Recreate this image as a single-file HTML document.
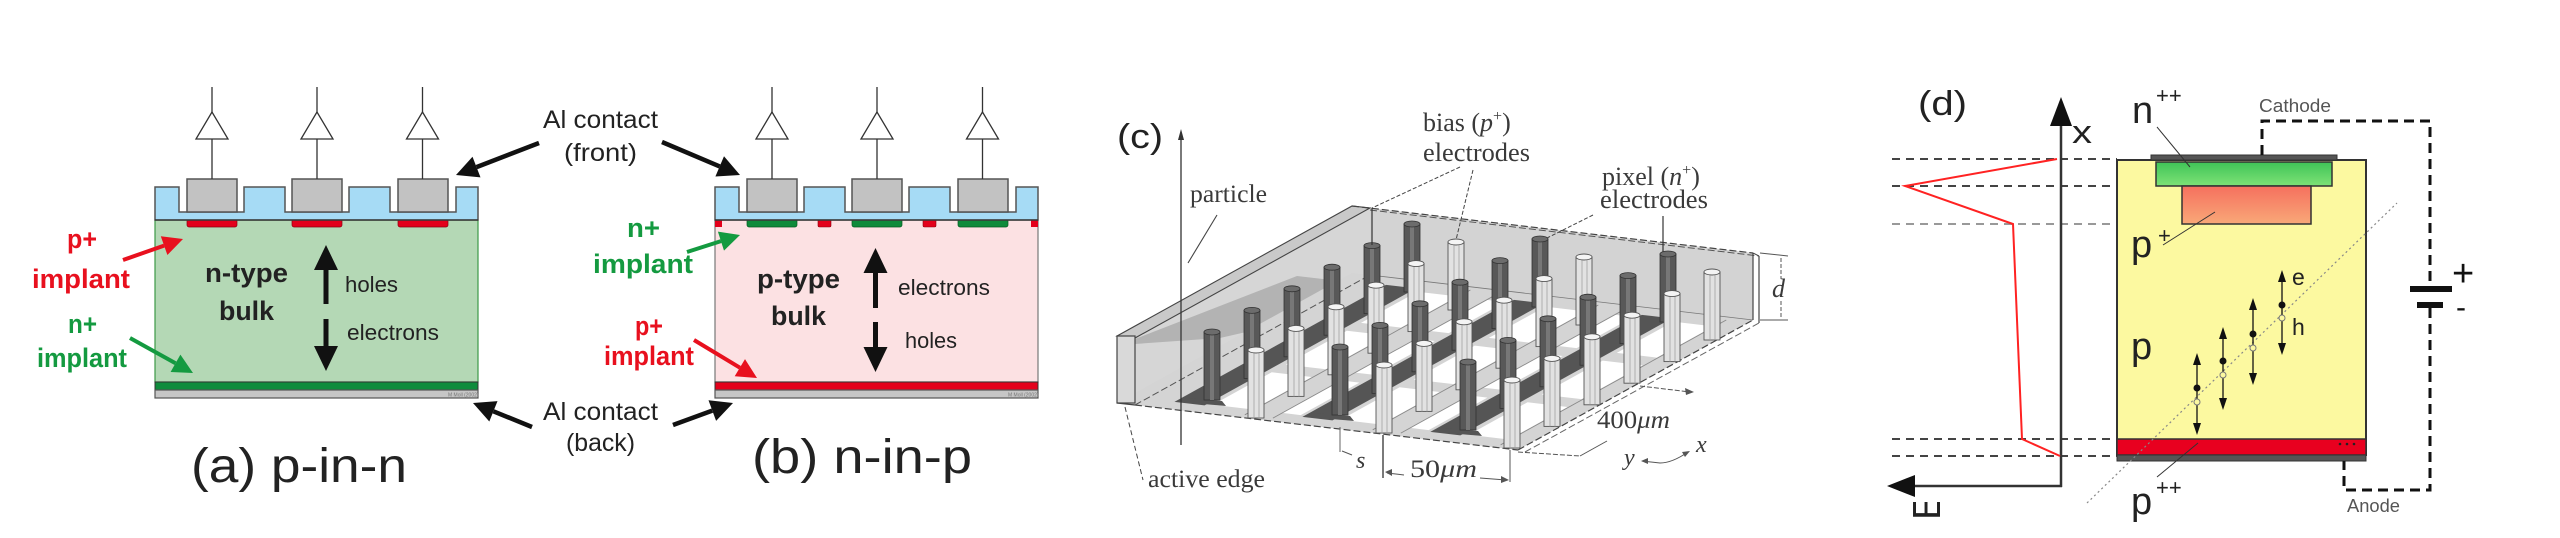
<!DOCTYPE html>
<html>
<head>
<meta charset="utf-8">
<style>
  html,body{margin:0;padding:0;background:#fff;}
  svg{display:block;}
  .sans{font-family:"Liberation Sans",Arial,sans-serif;}
  .serif{font-family:"Liberation Serif","Times New Roman",serif;}
</style>
</head>
<body>
<svg width="2560" height="538" viewBox="0 0 2560 538" xmlns="http://www.w3.org/2000/svg">
<defs>
  <g id="amp">
    <line x1="0" y1="87" x2="0" y2="179" stroke="#333" stroke-width="1.3"/>
    <polygon points="0,112 -16,139 16,139" fill="#fff" stroke="#333" stroke-width="1.3"/>
  </g>
  <g id="dp">
    <rect x="-8" y="-68" width="16" height="68" fill="#585858" stroke="#333" stroke-width="0.8"/>
    <rect x="-2" y="-67" width="4" height="67" fill="#777"/>
    <ellipse cx="0" cy="-68" rx="8" ry="3" fill="#6c6c6c" stroke="#333" stroke-width="0.8"/>
  </g>
  <g id="lp">
    <rect x="-8" y="-68" width="16" height="68" fill="#e2e2e2" stroke="#555" stroke-width="0.9"/>
    <line x1="-2" y1="-66" x2="-2" y2="0" stroke="#a0a0a0" stroke-width="0.8"/>
    <line x1="3" y1="-66" x2="3" y2="0" stroke="#a0a0a0" stroke-width="0.8"/>
    <ellipse cx="0" cy="-68" rx="8" ry="3" fill="#f4f4f4" stroke="#555" stroke-width="0.9"/>
  </g>
  <linearGradient id="gGreen" x1="0" y1="0" x2="0" y2="1">
    <stop offset="0" stop-color="#3fc457"/><stop offset="1" stop-color="#7ee276"/>
  </linearGradient>
  <linearGradient id="gSalmon" x1="0" y1="0" x2="0" y2="1">
    <stop offset="0" stop-color="#f6705e"/><stop offset="1" stop-color="#f8a878"/>
  </linearGradient>
  <clipPath id="eclip"><rect x="1900" y="502" width="50" height="17"/></clipPath>
</defs>

<!-- ================= PANEL A ================= -->
<rect x="155" y="220" width="323" height="162" fill="#b4d8b5" stroke="#3c9a48" stroke-width="1.2"/>
<rect x="187" y="219" width="50" height="8" rx="2" fill="#e3001b" stroke="#8a0010" stroke-width="0.7"/>
<rect x="292" y="219" width="50" height="8" rx="2" fill="#e3001b" stroke="#8a0010" stroke-width="0.7"/>
<rect x="398" y="219" width="50" height="8" rx="2" fill="#e3001b" stroke="#8a0010" stroke-width="0.7"/>
<path d="M155,220 V187 H179 V212 H244 V187 H285 V212 H349 V187 H390 V212 H456 V187 H478 V220 Z" fill="#a6dbf5" stroke="#555" stroke-width="1.5"/>
<line x1="155" y1="220" x2="478" y2="220" stroke="#333" stroke-width="1.3"/>
<rect x="187" y="179" width="50" height="33" fill="#c2c2c2" stroke="#555" stroke-width="1.5"/>
<rect x="292" y="179" width="50" height="33" fill="#c2c2c2" stroke="#555" stroke-width="1.5"/>
<rect x="398" y="179" width="50" height="33" fill="#c2c2c2" stroke="#555" stroke-width="1.5"/>
<use href="#amp" x="212" y="0"/>
<use href="#amp" x="317" y="0"/>
<use href="#amp" x="422.5" y="0"/>
<rect x="155" y="382" width="323" height="8" fill="#0f8c3c" stroke="#333" stroke-width="1"/>
<rect x="155" y="390" width="323" height="8" fill="#c6c6c6" stroke="#555" stroke-width="1.2"/>
<text x="448" y="396.5" class="sans" font-size="5" fill="#777">M Moll (2002)</text>

<text x="205" y="282" class="sans" font-size="27" font-weight="bold" fill="#222" textLength="83" lengthAdjust="spacingAndGlyphs">n-type</text>
<text x="219" y="320" class="sans" font-size="27" font-weight="bold" fill="#222" textLength="55" lengthAdjust="spacingAndGlyphs">bulk</text>
<polygon points="326,245 314,270 338,270" fill="#111"/>
<rect x="323.5" y="268" width="5" height="36" fill="#111"/>
<rect x="323.5" y="319" width="5" height="29" fill="#111"/>
<polygon points="314,346 338,346 326,371" fill="#111"/>
<text x="345" y="292" class="sans" font-size="22" fill="#222" textLength="53" lengthAdjust="spacingAndGlyphs">holes</text>
<text x="347" y="340" class="sans" font-size="22" fill="#222" textLength="92" lengthAdjust="spacingAndGlyphs">electrons</text>

<text x="67" y="248" class="sans" font-size="27" font-weight="bold" fill="#e8101e" textLength="30" lengthAdjust="spacingAndGlyphs">p+</text>
<text x="32" y="288" class="sans" font-size="27" font-weight="bold" fill="#e8101e" textLength="98" lengthAdjust="spacingAndGlyphs">implant</text>
<text x="68" y="333" class="sans" font-size="27" font-weight="bold" fill="#149a40" textLength="29" lengthAdjust="spacingAndGlyphs">n+</text>
<text x="37" y="367" class="sans" font-size="27" font-weight="bold" fill="#149a40" textLength="90" lengthAdjust="spacingAndGlyphs">implant</text>
<line x1="123" y1="260" x2="164.1" y2="245.6" stroke="#e8101e" stroke-width="4"/>
<polygon points="183,239 167.4,255 160.8,236.2" fill="#e8101e"/>
<line x1="130" y1="338" x2="175.5" y2="363.3" stroke="#149a40" stroke-width="4"/>
<polygon points="193,373 170.6,372 180.4,354.6" fill="#149a40"/>

<text x="191" y="482" class="sans" font-size="48" fill="#222" textLength="216" lengthAdjust="spacingAndGlyphs">(a)  p-in-n</text>

<!-- Al contact labels & arrows -->
<text x="543" y="128" class="sans" font-size="25" fill="#222" textLength="115" lengthAdjust="spacingAndGlyphs">Al contact</text>
<text x="564" y="161" class="sans" font-size="25" fill="#222" textLength="73" lengthAdjust="spacingAndGlyphs">(front)</text>
<text x="543" y="420" class="sans" font-size="25" fill="#222" textLength="115" lengthAdjust="spacingAndGlyphs">Al contact</text>
<text x="566" y="451" class="sans" font-size="25" fill="#222" textLength="69" lengthAdjust="spacingAndGlyphs">(back)</text>
<line x1="539" y1="143" x2="476.5" y2="167.1" stroke="#111" stroke-width="4.5"/>
<polygon points="456,175 472.5,156.8 480.5,177.4" fill="#111"/>
<line x1="662" y1="142" x2="719.7" y2="166.4" stroke="#111" stroke-width="4.5"/>
<polygon points="740,175 715.4,176.5 724,156.3" fill="#111"/>
<line x1="532" y1="427" x2="493.4" y2="411.3" stroke="#111" stroke-width="4.5"/>
<polygon points="473,403 497.5,401.1 489.3,421.5" fill="#111"/>
<line x1="673" y1="425" x2="712.3" y2="410.6" stroke="#111" stroke-width="4.5"/>
<polygon points="733,403 716.1,420.9 708.5,400.3" fill="#111"/>

<!-- ================= PANEL B ================= -->
<rect x="715" y="220" width="323" height="162" fill="#fce1e3" stroke="#777" stroke-width="1.2"/>
<rect x="747" y="219" width="50" height="8" rx="2" fill="#0e8a3a" stroke="#065a22" stroke-width="0.7"/>
<rect x="852" y="219" width="50" height="8" rx="2" fill="#0e8a3a" stroke="#065a22" stroke-width="0.7"/>
<rect x="958" y="219" width="50" height="8" rx="2" fill="#0e8a3a" stroke="#065a22" stroke-width="0.7"/>
<rect x="818" y="219" width="13" height="8" rx="1.5" fill="#e3001b" stroke="#8a0010" stroke-width="0.6"/>
<rect x="923" y="219" width="13" height="8" rx="1.5" fill="#e3001b" stroke="#8a0010" stroke-width="0.6"/>
<rect x="715" y="219" width="7" height="8" fill="#e3001b"/>
<rect x="1031" y="219" width="7" height="8" fill="#e3001b"/>
<path d="M715,220 V187 H739 V212 H804 V187 H845 V212 H909 V187 H950 V212 H1016 V187 H1038 V220 Z" fill="#a6dbf5" stroke="#555" stroke-width="1.5"/>
<line x1="715" y1="220" x2="1038" y2="220" stroke="#333" stroke-width="1.3"/>
<rect x="747" y="179" width="50" height="33" fill="#c2c2c2" stroke="#555" stroke-width="1.5"/>
<rect x="852" y="179" width="50" height="33" fill="#c2c2c2" stroke="#555" stroke-width="1.5"/>
<rect x="958" y="179" width="50" height="33" fill="#c2c2c2" stroke="#555" stroke-width="1.5"/>
<use href="#amp" x="772" y="0"/>
<use href="#amp" x="877" y="0"/>
<use href="#amp" x="982.5" y="0"/>
<rect x="715" y="382" width="323" height="8" fill="#e3001b" stroke="#333" stroke-width="1"/>
<rect x="715" y="390" width="323" height="8" fill="#c6c6c6" stroke="#555" stroke-width="1.2"/>
<text x="1008" y="396.5" class="sans" font-size="5" fill="#777">M Moll (2002)</text>

<text x="757" y="288" class="sans" font-size="27" font-weight="bold" fill="#222" textLength="83" lengthAdjust="spacingAndGlyphs">p-type</text>
<text x="771" y="325" class="sans" font-size="27" font-weight="bold" fill="#222" textLength="55" lengthAdjust="spacingAndGlyphs">bulk</text>
<polygon points="875.5,248 863.5,273 887.5,273" fill="#111"/>
<rect x="873" y="271" width="5" height="37" fill="#111"/>
<rect x="873" y="322" width="5" height="27" fill="#111"/>
<polygon points="863.5,347 887.5,347 875.5,372" fill="#111"/>
<text x="898" y="295" class="sans" font-size="22" fill="#222" textLength="92" lengthAdjust="spacingAndGlyphs">electrons</text>
<text x="905" y="348" class="sans" font-size="22" fill="#222" textLength="52" lengthAdjust="spacingAndGlyphs">holes</text>

<text x="627" y="237" class="sans" font-size="27" font-weight="bold" fill="#149a40" textLength="33" lengthAdjust="spacingAndGlyphs">n+</text>
<text x="593" y="273" class="sans" font-size="27" font-weight="bold" fill="#149a40" textLength="100" lengthAdjust="spacingAndGlyphs">implant</text>
<text x="635" y="335" class="sans" font-size="27" font-weight="bold" fill="#e8101e" textLength="28" lengthAdjust="spacingAndGlyphs">p+</text>
<text x="604" y="365" class="sans" font-size="27" font-weight="bold" fill="#e8101e" textLength="90" lengthAdjust="spacingAndGlyphs">implant</text>
<line x1="687" y1="252" x2="721" y2="241.1" stroke="#149a40" stroke-width="4"/>
<polygon points="740,235 724,250.6 717.9,231.6" fill="#149a40"/>
<line x1="694" y1="340" x2="739.9" y2="367.7" stroke="#e8101e" stroke-width="4"/>
<polygon points="757,378 734.7,376.3 745,359.1" fill="#e8101e"/>

<text x="752" y="473" class="sans" font-size="48" fill="#222" textLength="220" lengthAdjust="spacingAndGlyphs">(b)  n-in-p</text>

<!-- ================= PANEL C ================= -->
<text x="1117" y="148" class="sans" font-size="34" fill="#222" textLength="46" lengthAdjust="spacingAndGlyphs">(c)</text>

<!-- back wall -->
<polygon points="1370,208 1753,253 1753,320 1370,275" fill="#d3d3d3"/>
<!-- left wall inner face -->
<polygon points="1135,338 1370,208 1370,275 1135,405" fill="#d6d6d6"/>
<polygon points="1135,339 1297,276 1357,283 1255,330 1220,338 1135,344" fill="#adadad" opacity="0.85"/>
<!-- floor -->
<g transform="matrix(401 47 235 -130 1117 403)">
  <rect x="0" y="0" width="1" height="1" fill="#d4d4d4"/>
  <!-- white cells -->
  <g fill="#ffffff">
    <rect x="0.204" y="0.06" width="0.100" height="0.25"/>
    <rect x="0.204" y="0.37" width="0.100" height="0.26"/>
    <rect x="0.204" y="0.69" width="0.100" height="0.24"/>
    <rect x="0.377" y="0.06" width="0.046" height="0.25"/>
    <rect x="0.377" y="0.37" width="0.046" height="0.26"/>
    <rect x="0.377" y="0.69" width="0.046" height="0.24"/>
    <rect x="0.523" y="0.06" width="0.100" height="0.25"/>
    <rect x="0.523" y="0.37" width="0.100" height="0.26"/>
    <rect x="0.523" y="0.69" width="0.100" height="0.24"/>
    <rect x="0.696" y="0.06" width="0.046" height="0.25"/>
    <rect x="0.696" y="0.37" width="0.046" height="0.26"/>
    <rect x="0.696" y="0.69" width="0.046" height="0.24"/>
    <rect x="0.842" y="0.06" width="0.100" height="0.25"/>
    <rect x="0.842" y="0.37" width="0.100" height="0.26"/>
    <rect x="0.842" y="0.69" width="0.100" height="0.24"/>
  </g>
  <g stroke="#8a8a8a" stroke-width="0.9" vector-effect="non-scaling-stroke">
    <line x1="0.307" y1="0.02" x2="0.307" y2="0.98" vector-effect="non-scaling-stroke"/>
    <line x1="0.377" y1="0.02" x2="0.377" y2="0.98" vector-effect="non-scaling-stroke"/>
    <line x1="0.626" y1="0.02" x2="0.626" y2="0.98" vector-effect="non-scaling-stroke"/>
    <line x1="0.696" y1="0.02" x2="0.696" y2="0.98" vector-effect="non-scaling-stroke"/>
    <line x1="0.945" y1="0.02" x2="0.945" y2="0.98" vector-effect="non-scaling-stroke"/>
  </g>
  <!-- dark strips -->
  <g fill="#555">
    <rect x="0.114" y="0.05" width="0.075" height="0.90"/>
    <rect x="0.433" y="0.05" width="0.075" height="0.90"/>
    <rect x="0.752" y="0.05" width="0.075" height="0.90"/>
  </g>
</g>
<!-- strip feet -->
<polygon points="1188,398 1222,401 1226,406 1192,403" fill="#555"/>
<polygon points="1316,413 1350,416 1354,421 1320,418" fill="#555"/>
<polygon points="1444,428 1478,431 1482,436 1448,433" fill="#555"/>
<!-- floor edges -->
<line x1="1135" y1="405" x2="1518" y2="450" stroke="#444" stroke-width="1.2" stroke-dasharray="7 3"/>
<line x1="1518" y1="450" x2="1753" y2="320" stroke="#444" stroke-width="1.2" stroke-dasharray="7 3"/>
<line x1="1525" y1="452" x2="1759" y2="323" stroke="#666" stroke-width="1" stroke-dasharray="7 3"/>
<line x1="1135" y1="405" x2="1370" y2="275" stroke="#555" stroke-width="1" stroke-dasharray="7 3"/>
<line x1="1370" y1="275" x2="1753" y2="320" stroke="#777" stroke-width="0.8"/>

<!-- pillars (back to front) -->
<use href="#dp" x="1412" y="292"/>
<use href="#dp" x="1540" y="307"/>
<use href="#lp" x="1456" y="310"/>
<use href="#dp" x="1372" y="313.6"/>
<use href="#dp" x="1668" y="322"/>
<use href="#lp" x="1584" y="325"/>
<use href="#dp" x="1500" y="328.6"/>
<use href="#lp" x="1416" y="331.6"/>
<use href="#dp" x="1332" y="335.2"/>
<use href="#lp" x="1712" y="340"/>
<use href="#dp" x="1628" y="343.6"/>
<use href="#lp" x="1544" y="346.6"/>
<use href="#dp" x="1460" y="350.2"/>
<use href="#lp" x="1376" y="353.2"/>
<use href="#dp" x="1292" y="356.8"/>
<use href="#lp" x="1672" y="361.6"/>
<use href="#dp" x="1588" y="365.2"/>
<use href="#lp" x="1504" y="368.2"/>
<use href="#dp" x="1420" y="371.8"/>
<use href="#lp" x="1336" y="374.8"/>
<use href="#dp" x="1252" y="378.4"/>
<use href="#lp" x="1632" y="383.2"/>
<use href="#dp" x="1548" y="386.8"/>
<use href="#lp" x="1464" y="389.8"/>
<use href="#dp" x="1380" y="393.4"/>
<use href="#lp" x="1296" y="396.4"/>
<use href="#dp" x="1212" y="400"/>
<use href="#lp" x="1592" y="404.8"/>
<use href="#dp" x="1508" y="408.4"/>
<use href="#lp" x="1424" y="411.4"/>
<use href="#dp" x="1340" y="415"/>
<use href="#lp" x="1256" y="418"/>
<use href="#lp" x="1552" y="426.4"/>
<use href="#dp" x="1468" y="430"/>
<use href="#lp" x="1384" y="433"/>
<use href="#lp" x="1512" y="448"/>

<!-- left wall (active edge) -->
<polygon points="1117,336 1352,206 1370,208 1135,338" fill="#c9c9c9" stroke="#444" stroke-width="1.1"/>
<rect x="1117" y="336" width="18" height="67" fill="#d9d9d9" stroke="#444" stroke-width="1.2"/>
<line x1="1117" y1="403" x2="1135" y2="405" stroke="#444" stroke-width="1.2"/>
<!-- back wall top edges -->
<line x1="1352" y1="206" x2="1753" y2="253" stroke="#444" stroke-width="1.2" stroke-dasharray="7 3"/>
<line x1="1370" y1="210" x2="1759" y2="256" stroke="#555" stroke-width="1" stroke-dasharray="7 3"/>
<line x1="1753" y1="253" x2="1753" y2="320" stroke="#444" stroke-width="1.2"/>
<line x1="1759" y1="256" x2="1759" y2="323" stroke="#444" stroke-width="1.2"/>
<line x1="1753" y1="253" x2="1759" y2="256" stroke="#444" stroke-width="1"/>

<!-- particle -->
<line x1="1181" y1="137" x2="1181" y2="445" stroke="#333" stroke-width="1.3"/>
<polygon points="1181,129 1178,140 1184,140" fill="#333"/>
<line x1="1217" y1="215" x2="1188" y2="263" stroke="#444" stroke-width="1.1"/>
<text x="1190" y="202" class="serif" font-size="25" fill="#3a3a3a" textLength="77" lengthAdjust="spacingAndGlyphs">particle</text>

<!-- electrode labels -->
<text x="1423" y="131" class="serif" font-size="26" fill="#3a3a3a">bias (<tspan font-style="italic">p</tspan><tspan font-size="16" dy="-10">+</tspan><tspan dy="10">)</tspan></text>
<text x="1423" y="161" class="serif" font-size="26" fill="#3a3a3a" textLength="107" lengthAdjust="spacingAndGlyphs">electrodes</text>
<text x="1602" y="185" class="serif" font-size="26" fill="#3a3a3a">pixel (<tspan font-style="italic">n</tspan><tspan font-size="16" dy="-10">+</tspan><tspan dy="10">)</tspan></text>
<text x="1600" y="208" class="serif" font-size="26" fill="#3a3a3a" textLength="108" lengthAdjust="spacingAndGlyphs">electrodes</text>
<line x1="1460" y1="167" x2="1372" y2="208" stroke="#444" stroke-width="1" stroke-dasharray="4 2"/>
<line x1="1372" y1="208" x2="1372" y2="245" stroke="#333" stroke-width="1.2"/>
<line x1="1473" y1="170" x2="1456" y2="240" stroke="#444" stroke-width="1" stroke-dasharray="4 2"/>
<line x1="1593" y1="215" x2="1547" y2="238" stroke="#444" stroke-width="1" stroke-dasharray="4 2"/>
<line x1="1663" y1="216" x2="1663" y2="252" stroke="#333" stroke-width="1.2"/>

<!-- d dimension -->
<line x1="1760" y1="253" x2="1788" y2="256" stroke="#555" stroke-width="1"/>
<line x1="1760" y1="320" x2="1788" y2="320" stroke="#555" stroke-width="1"/>
<line x1="1781" y1="258" x2="1781" y2="279" stroke="#555" stroke-width="1" stroke-dasharray="4 2"/>
<line x1="1781" y1="301" x2="1781" y2="318" stroke="#555" stroke-width="1" stroke-dasharray="4 2"/>
<text x="1772" y="297" class="serif" font-size="26" font-style="italic" fill="#3a3a3a">d</text>

<!-- 400um dimension -->
<line x1="1518" y1="452" x2="1580" y2="456" stroke="#555" stroke-width="1" stroke-dasharray="5 2"/>
<line x1="1580" y1="456" x2="1607" y2="441" stroke="#555" stroke-width="1"/>
<line x1="1640" y1="386" x2="1690" y2="392" stroke="#555" stroke-width="1" stroke-dasharray="5 2"/>
<polygon points="1694,392 1685,388 1686,395" fill="#555"/>
<text x="1597" y="428" class="serif" font-size="25" fill="#3a3a3a" textLength="73" lengthAdjust="spacingAndGlyphs">400<tspan font-style="italic">μm</tspan></text>
<!-- axes -->
<text x="1624" y="465" class="serif" font-size="24" font-style="italic" fill="#3a3a3a">y</text>
<path d="M1642,461 L1660,463 Q1672,463 1688,452" fill="none" stroke="#555" stroke-width="1"/>
<polygon points="1641,461 1648,458 1648,464" fill="#555"/>
<polygon points="1690,451 1682,452 1685,457" fill="#555"/>
<text x="1696" y="452" class="serif" font-size="24" font-style="italic" fill="#3a3a3a">x</text>

<!-- s / 50um dimension -->
<line x1="1340" y1="427" x2="1340" y2="452" stroke="#666" stroke-width="1"/>
<line x1="1342" y1="451" x2="1352" y2="455" stroke="#555" stroke-width="1"/>
<text x="1356" y="468" class="serif" font-size="24" font-style="italic" fill="#3a3a3a">s</text>
<line x1="1383" y1="435" x2="1383" y2="478" stroke="#333" stroke-width="1.3"/>
<line x1="1387" y1="473" x2="1404" y2="475" stroke="#555" stroke-width="1"/>
<polygon points="1385,472 1392,469 1392,476" fill="#555"/>
<line x1="1480" y1="478" x2="1506" y2="480" stroke="#555" stroke-width="1"/>
<polygon points="1509,480 1501,476 1501,483" fill="#555"/>
<line x1="1510" y1="450" x2="1510" y2="482" stroke="#555" stroke-width="1"/>
<text x="1410" y="477" class="serif" font-size="25" fill="#3a3a3a" textLength="67" lengthAdjust="spacingAndGlyphs">50<tspan font-style="italic">μm</tspan></text>

<!-- active edge -->
<line x1="1125" y1="407" x2="1143" y2="480" stroke="#444" stroke-width="1" stroke-dasharray="5 3"/>
<text x="1148" y="487" class="serif" font-size="25" fill="#3a3a3a" textLength="117" lengthAdjust="spacingAndGlyphs">active edge</text>

<!-- ================= PANEL D ================= -->
<text x="1918" y="115" class="sans" font-size="34" fill="#222" textLength="49" lengthAdjust="spacingAndGlyphs">(d)</text>

<!-- dashed guides -->
<g stroke-width="2" stroke-dasharray="8 6">
  <line x1="1892" y1="159" x2="2117" y2="159" stroke="#444"/>
  <line x1="1892" y1="186" x2="2117" y2="186" stroke="#444"/>
  <line x1="1892" y1="224" x2="2117" y2="224" stroke="#999"/>
  <line x1="1892" y1="439" x2="2117" y2="439" stroke="#444"/>
  <line x1="1892" y1="456" x2="2117" y2="456" stroke="#444"/>
</g>
<!-- axes -->
<line x1="2061" y1="120" x2="2061" y2="487" stroke="#333" stroke-width="2.5"/>
<polygon points="2061,97 2050,126 2072,126" fill="#111"/>
<line x1="2062" y1="486" x2="1912" y2="486" stroke="#333" stroke-width="2.5"/>
<polygon points="1887,486 1915,475 1915,497" fill="#111"/>
<text x="2072" y="143" class="sans" font-size="32" fill="#222" textLength="20" lengthAdjust="spacingAndGlyphs">x</text>
<g clip-path="url(#eclip)">
  <text transform="translate(1940,520) rotate(-90)" class="sans" font-size="39" fill="#222">E</text>
</g>
<!-- E field profile -->
<polyline points="2057,159 1905,186 2013,224 2022,439 2060,456" fill="none" stroke="#ff2222" stroke-width="2"/>

<!-- device -->
<rect x="2117" y="160" width="249" height="295" fill="#fcf9a0" stroke="#333" stroke-width="2"/>
<rect x="2156" y="162" width="176" height="24" fill="url(#gGreen)" stroke="#333" stroke-width="1.5"/>
<rect x="2182" y="186" width="129" height="38" fill="url(#gSalmon)" stroke="#333" stroke-width="1.5"/>
<rect x="2117" y="439" width="249" height="16" fill="#e8001f" stroke="#333" stroke-width="1.5"/>
<rect x="2117" y="455" width="249" height="6" fill="#555" stroke="#333" stroke-width="1"/>
<rect x="2151" y="155" width="186" height="5" fill="#555" stroke="#333" stroke-width="1"/>
<circle cx="2340" cy="444" r="1.3" fill="#222"/><circle cx="2347" cy="444" r="1.3" fill="#222"/><circle cx="2354" cy="444" r="1.3" fill="#222"/>

<!-- particle track -->
<line x1="2087" y1="503" x2="2397" y2="203" stroke="#888" stroke-width="1.2" stroke-dasharray="2 3"/>

<!-- carriers -->
<g stroke="#111" stroke-width="1.3" fill="#111">
  <line x1="2197" y1="360" x2="2197" y2="428"/>
  <polygon points="2197,353 2193,365 2201,365" stroke="none"/>
  <polygon points="2197,435 2193,423 2201,423" stroke="none"/>
  <line x1="2223" y1="334" x2="2223" y2="403"/>
  <polygon points="2223,327 2219,339 2227,339" stroke="none"/>
  <polygon points="2223,410 2219,398 2227,398" stroke="none"/>
  <line x1="2253" y1="305" x2="2253" y2="378"/>
  <polygon points="2253,298 2249,310 2257,310" stroke="none"/>
  <polygon points="2253,385 2249,373 2257,373" stroke="none"/>
  <line x1="2282" y1="277" x2="2282" y2="348"/>
  <polygon points="2282,270 2278,282 2286,282" stroke="none"/>
  <polygon points="2282,355 2278,343 2286,343" stroke="none"/>
</g>
<g fill="#111">
  <circle cx="2197" cy="388" r="3.5"/>
  <circle cx="2223" cy="361" r="3.5"/>
  <circle cx="2253" cy="334" r="3.5"/>
  <circle cx="2282" cy="305" r="3.5"/>
</g>
<g fill="#fcf9a0" stroke="#777" stroke-width="1">
  <circle cx="2197" cy="402" r="3"/>
  <circle cx="2223" cy="375" r="3"/>
  <circle cx="2253" cy="348" r="3"/>
  <circle cx="2282" cy="318" r="3"/>
</g>
<text x="2292" y="285" class="sans" font-size="23" fill="#222">e</text>
<text x="2292" y="335" class="sans" font-size="23" fill="#222">h</text>

<!-- region labels -->
<text x="2132" y="123" class="sans" font-size="38" fill="#222">n</text>
<text x="2156" y="103" class="sans" font-size="22" fill="#222">++</text>
<line x1="2157" y1="127" x2="2190" y2="167" stroke="#333" stroke-width="1"/>
<text x="2131" y="257" class="sans" font-size="38" fill="#222">p</text>
<text x="2158" y="243" class="sans" font-size="22" fill="#222">+</text>
<line x1="2163" y1="245" x2="2215" y2="212" stroke="#333" stroke-width="1"/>
<text x="2131" y="359" class="sans" font-size="38" fill="#222">p</text>
<text x="2131" y="514" class="sans" font-size="38" fill="#222">p</text>
<text x="2156" y="495" class="sans" font-size="22" fill="#222">++</text>
<line x1="2157" y1="477" x2="2198" y2="443" stroke="#333" stroke-width="1"/>

<!-- circuit -->
<path d="M2262,155 V121 H2430 V286" fill="none" stroke="#111" stroke-width="3" stroke-dasharray="10 6"/>
<path d="M2430,308 V490 H2344 V461" fill="none" stroke="#111" stroke-width="3" stroke-dasharray="10 6"/>
<rect x="2410" y="286" width="42" height="6" fill="#111"/>
<rect x="2417" y="302" width="26" height="6" fill="#111"/>
<text x="2452" y="286" class="sans" font-size="38" fill="#111">+</text>
<text x="2456" y="317" class="sans" font-size="30" fill="#111">-</text>
<text x="2259" y="112" class="sans" font-size="18" fill="#555" textLength="72" lengthAdjust="spacingAndGlyphs">Cathode</text>
<text x="2347" y="512" class="sans" font-size="18" fill="#555" textLength="53" lengthAdjust="spacingAndGlyphs">Anode</text>
</svg>
</body>
</html>
